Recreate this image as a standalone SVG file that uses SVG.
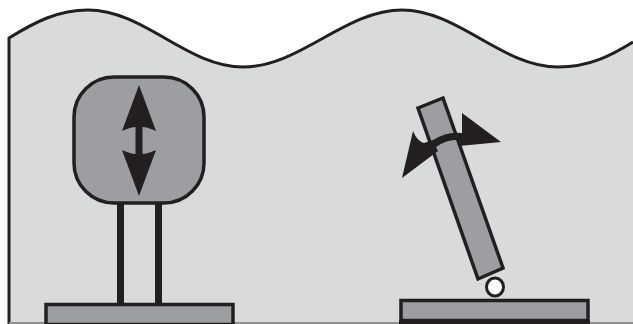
<svg xmlns="http://www.w3.org/2000/svg" width="633" height="324" viewBox="0 0 633 324">
<style>
.d{stroke:#231f20;stroke-linejoin:miter}
.g{fill:#9d9ea1}
.k{fill:#231f20;stroke:none}
</style>
<rect width="633" height="324" fill="#fff"/>
<path id="background" d="M9 38C35 22 58 10 88 10C144 10 187 67 243 67C300 67 345 10 402 10C458 10 502 67 558 67C590 67 612 55 633 42V322H9Z" fill="#d9dadc"/>
<path d="M9 324V38C35 22 58 10 88 10C144 10 187 67 243 67C300 67 345 10 402 10C458 10 502 67 558 67C590 67 612 55 633 42" fill="none" class="d" stroke-width="3"/>
<rect x="9" y="322" width="624" height="2" fill="#8f9092"/>
<g id="left-actuator">
<rect x="117" y="200" width="7" height="104" class="k"/>
<rect x="155" y="200" width="7" height="104" class="k"/>
<rect x="74" y="77" width="130" height="126" rx="40" ry="40" class="d g" stroke-width="3.500"/>
<path class="k" d="M139 85L156 131Q147 127 142.500 127V154Q147 154 156 150L139 196L122 150Q131 154 135.500 154V127Q131 127 122 131Z"/>
<rect x="46" y="304.500" width="187" height="20" class="d g" stroke-width="3.500"/>
</g>
<g id="right-actuator">
<rect x="401" y="300.500" width="187" height="20" class="d g" stroke-width="3.500"/>
<rect x="399" y="320" width="191" height="4" class="k"/>
<ellipse cx="495" cy="287" rx="8.500" ry="9" fill="#fff" class="d" stroke-width="3"/>
<polygon points="418,108 443,98 503,268 478,279" class="d g" stroke-width="3.500"/>
<path class="k" d="M402 178L413 131Q417 141 424 143L433 140Q447 131 462 133L462 113L501 142L459 146L458 140Q447 139 436 147L438 151Z"/>
</g>
</svg>
